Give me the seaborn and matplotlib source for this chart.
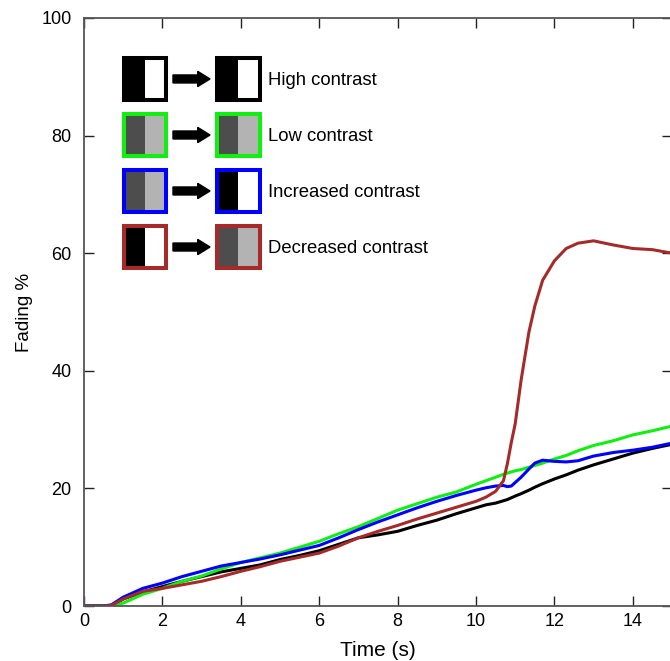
import numpy as np
import pandas as pd
import matplotlib
matplotlib.use("Agg")
import matplotlib.pyplot as plt
from matplotlib.patches import Rectangle, FancyArrow
import seaborn as sns

# Time axis (s) shared by all four conditions
time_s = [0, 0.5, 0.7, 1.0, 1.5, 2, 2.5, 3, 3.5, 4, 4.5, 5, 5.5, 6, 6.5, 7, 7.5,
          8, 8.5, 9, 9.5, 10, 10.25, 10.5, 10.7, 10.8, 10.9, 11.0, 11.15, 11.35,
          11.5, 11.7, 12.0, 12.3, 12.6, 13.0, 13.5, 14.0, 14.5, 15.0]

# Fading (%) per condition
high_contrast = [0, 0, 0.1, 1.2, 2.4, 3.3, 4.2, 5.0, 5.8, 6.4, 7.0, 7.9, 8.6, 9.4,
                 10.5, 11.6, 12.1, 12.7, 13.7, 14.6, 15.7, 16.7, 17.2, 17.5, 17.9,
                 18.1, 18.4, 18.7, 19.1, 19.7, 20.2, 20.8, 21.6, 22.3, 23.1, 24.0,
                 25.0, 26.0, 26.8, 27.5]
low_contrast = [0, 0, 0, 0.5, 2.0, 3.0, 4.2, 5.1, 6.3, 7.4, 8.2, 9.0, 10.0, 11.0,
                12.3, 13.5, 14.9, 16.3, 17.4, 18.5, 19.4, 20.7, 21.3, 21.9, 22.4,
                22.6, 22.8, 23.0, 23.2, 23.6, 23.9, 24.3, 25.0, 25.6, 26.4, 27.3,
                28.1, 29.1, 29.8, 30.6]
increased_contrast = [0, 0, 0.2, 1.5, 3.0, 3.9, 5.0, 5.9, 6.8, 7.4, 8.0, 8.7, 9.5,
                      10.3, 11.6, 13.0, 14.3, 15.5, 16.7, 17.8, 18.8, 19.7, 20.1,
                      20.4, 20.5, 20.3, 20.4, 21.0, 21.9, 23.3, 24.3, 24.8, 24.6,
                      24.5, 24.7, 25.5, 26.1, 26.5, 27.0, 27.7]
decreased_contrast = [0, 0, 0.1, 1.2, 2.5, 3.0, 3.6, 4.2, 5.0, 5.9, 6.7, 7.6, 8.3,
                      9.0, 10.2, 11.6, 12.7, 13.7, 14.8, 15.8, 16.8, 17.8, 18.5,
                      19.5, 21.3, 24.2, 27.8, 31.0, 38.4, 46.6, 51.0, 55.4, 58.7,
                      60.8, 61.7, 62.1, 61.4, 60.8, 60.6, 60.0]

conditions = ["High contrast", "Low contrast", "Increased contrast", "Decreased contrast"]
series = [high_contrast, low_contrast, increased_contrast, decreased_contrast]
line_colors = ["#000000", "#11ee11", "#0000ff", "#a52a2a"]

x_ticks = [0, 2, 4, 6, 8, 10, 12, 14]
y_ticks = [0, 20, 40, 60, 80, 100]

df = pd.concat(
    [pd.DataFrame({"Time (s)": time_s, "Fading %": vals, "condition": name})
     for name, vals in zip(conditions, series)],
    ignore_index=True,
)

sns.set_style("ticks")
plt.rcParams["font.family"] = ["Liberation Sans", "DejaVu Sans"]
plt.rcParams["text.color"] = "black"
plt.rcParams["axes.labelcolor"] = "black"
plt.rcParams["xtick.labelcolor"] = "black"
plt.rcParams["ytick.labelcolor"] = "black"

fig = plt.figure(figsize=(6.70, 6.61), dpi=100)
ax = fig.add_axes([0.1254, 0.0832, 0.8776, 0.8896])

sns.lineplot(data=df, x="Time (s)", y="Fading %", hue="condition",
             hue_order=conditions, palette=line_colors, linewidth=2.2,
             legend=False, ax=ax)

ax.set_xlim(0, 15)
ax.set_ylim(0, 100)
ax.set_xticks(x_ticks)
ax.set_yticks(y_ticks)
ax.set_xlabel("Time (s)", fontsize=15, labelpad=8)
ax.set_ylabel("Fading %", fontsize=13.5, labelpad=6)
ax.tick_params(direction="in", length=7, width=1.0, color="#222222",
               labelsize=13, top=True, right=True)
ax.tick_params(axis="y", pad=9)
ax.tick_params(axis="x", pad=5)
for sp in ax.spines.values():
    sp.set_color("#555555")
    sp.set_linewidth(1.3)

# Stimulus-transition key: before box -> arrow -> after box, then label
dark, light = "#4d4d4d", "#b3b3b3"
key_rows = [
    ("High contrast", "#000000", ("#000000", "#ffffff"), ("#000000", "#ffffff")),
    ("Low contrast", "#11ee11", (dark, light), (dark, light)),
    ("Increased contrast", "#0000ff", (dark, light), ("#000000", "#ffffff")),
    ("Decreased contrast", "#a52a2a", ("#000000", "#ffffff"), (dark, light)),
]
row_y = [0.8963, 0.8010, 0.7058, 0.6105]
box = 0.0724
box_x = [0.1037, 0.2625]


def draw_box(cx, cy, fills, edge):
    x0, y0 = cx - box / 2, cy - box / 2
    ax.add_patch(Rectangle((x0, y0), box / 2, box, transform=ax.transAxes,
                           facecolor=fills[0], edgecolor="none", zorder=5))
    ax.add_patch(Rectangle((cx, y0), box / 2, box, transform=ax.transAxes,
                           facecolor=fills[1], edgecolor="none", zorder=5))
    ax.add_patch(Rectangle((x0, y0), box, box, transform=ax.transAxes,
                           facecolor="none", edgecolor=edge, linewidth=2.9,
                           joinstyle="miter", zorder=6))


for (label, edge, before, after), cy in zip(key_rows, row_y):
    draw_box(box_x[0], cy, before, edge)
    draw_box(box_x[1], cy, after, edge)
    ax.add_patch(FancyArrow(0.1513, cy, 0.063, 0, width=0.0136,
                            head_width=0.026, head_length=0.021,
                            length_includes_head=True, transform=ax.transAxes,
                            color="black", zorder=6))
    ax.text(0.313, cy - 0.003, label, transform=ax.transAxes, fontsize=13.3,
            va="center", ha="left", color="black", zorder=6)

fig.savefig("out.png", dpi=100)
